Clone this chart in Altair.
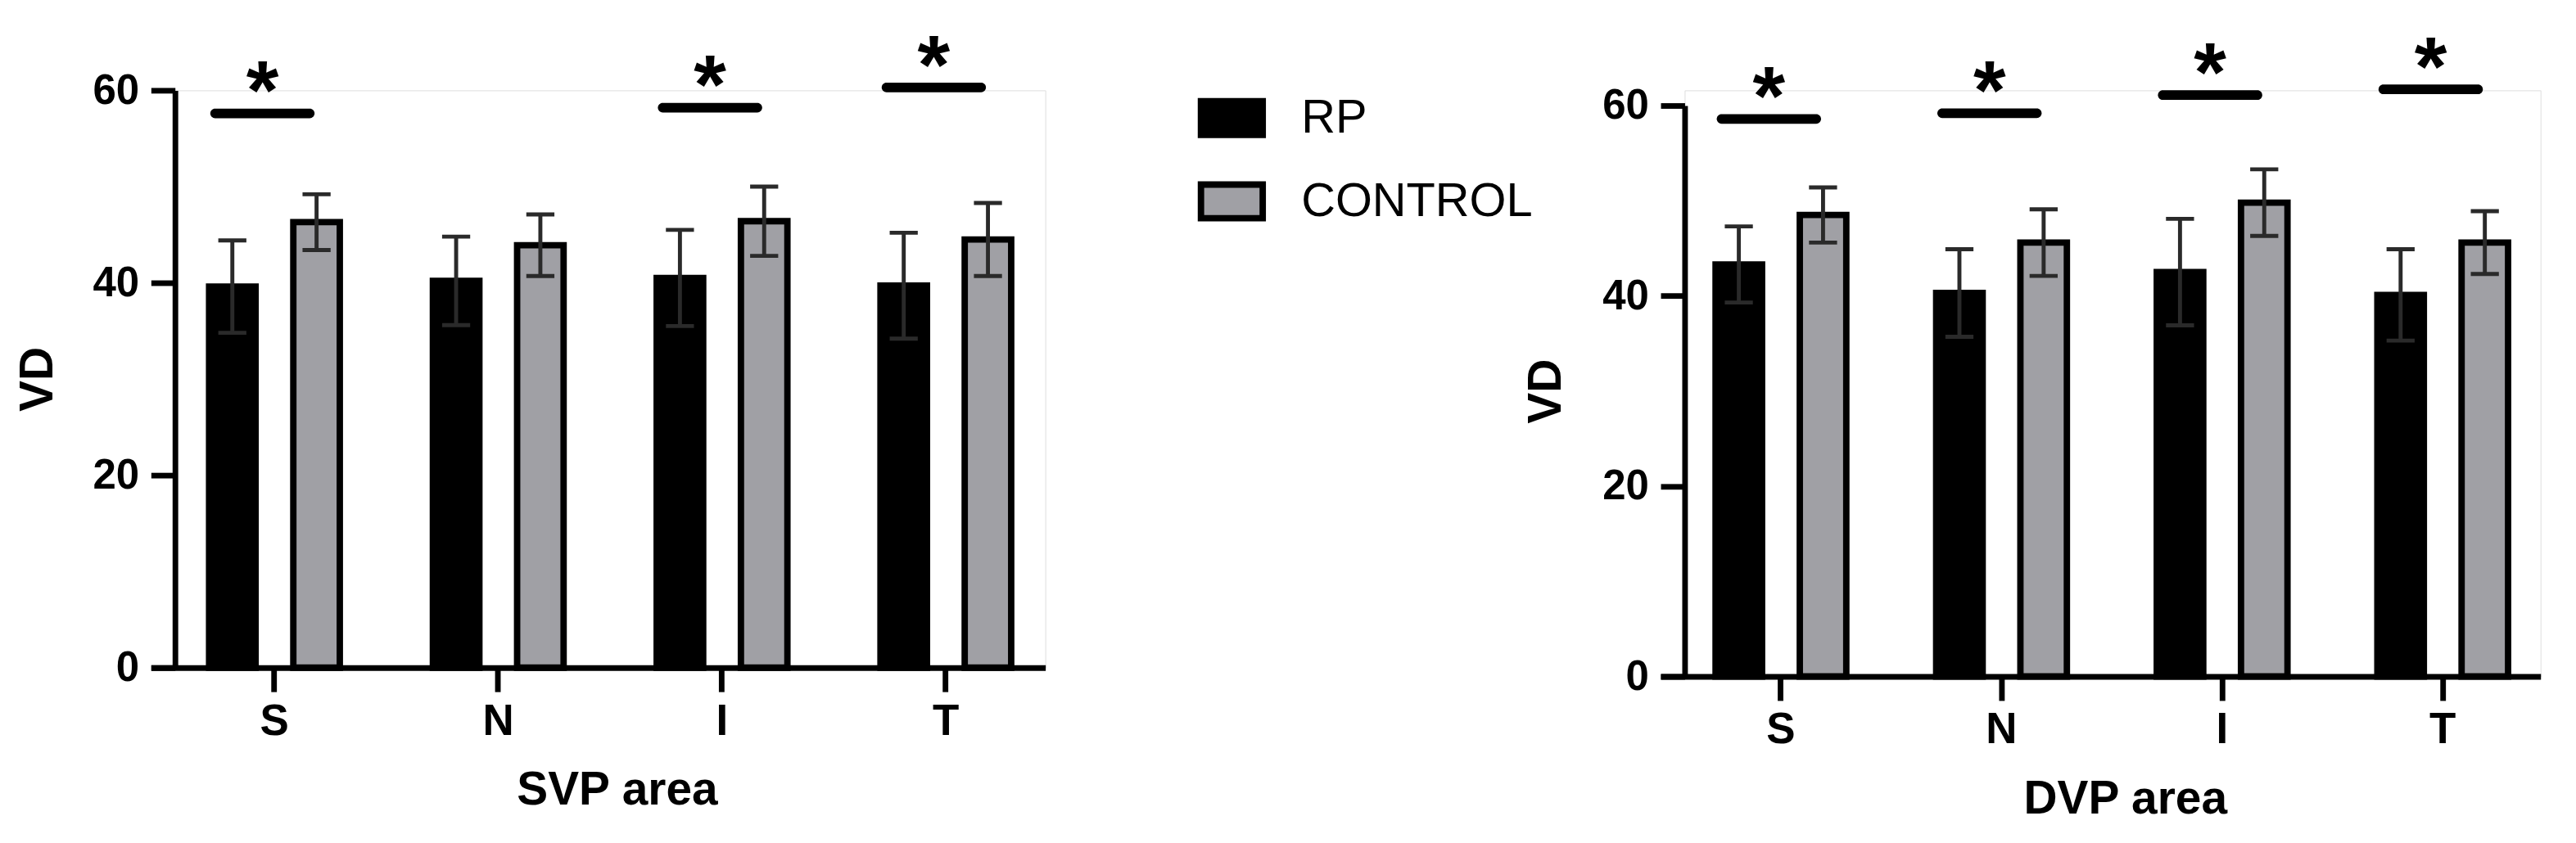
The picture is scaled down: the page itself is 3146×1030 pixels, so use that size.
import altair as alt
import pandas as pd

areas = ["S", "N", "I", "T"]
groups = ["RP", "CONTROL"]

# SVP panel
svp_rp = [39.6, 40.2, 40.5, 39.7]
svp_rp_sd = [4.8, 4.6, 5.0, 5.5]
svp_ctrl = [46.3, 43.9, 46.4, 44.5]
svp_ctrl_sd = [2.9, 3.2, 3.6, 3.8]
svp_sig_areas = ["S", "I", "T"]
svp_sig_y = [57.6, 58.2, 60.3]

# DVP panel
dvp_rp = [43.3, 40.3, 42.5, 40.1]
dvp_rp_sd = [4.0, 4.6, 5.6, 4.8]
dvp_ctrl = [48.5, 45.6, 49.8, 45.6]
dvp_ctrl_sd = [2.9, 3.5, 3.5, 3.3]
dvp_sig_areas = ["S", "N", "I", "T"]
dvp_sig_y = [58.6, 59.2, 61.1, 61.7]

FONT = "Liberation Sans"
GRAY = "#a0a0a5"
ERR = "#2a2a2a"


def long_df(rp, rp_sd, ctrl, ctrl_sd):
    rows = []
    for i, a in enumerate(areas):
        rows.append({"area": a, "group": "RP", "mean": rp[i],
                     "lo": rp[i] - rp_sd[i], "hi": rp[i] + rp_sd[i]})
        rows.append({"area": a, "group": "CONTROL", "mean": ctrl[i],
                     "lo": ctrl[i] - ctrl_sd[i], "hi": ctrl[i] + ctrl_sd[i]})
    return pd.DataFrame(rows)


def panel(df, sig_df, xtitle, width, height, yrange, xrange, pi, po, al,
          xtitle_x, ytitle_x, legend):
    xenc = alt.X("area:N", sort=areas,
                 scale=alt.Scale(range=xrange, paddingInner=pi, paddingOuter=po, align=al),
                 axis=alt.Axis(title=xtitle, labelAngle=0, tickSize=30, tickWidth=7,
                               tickColor="black", domainColor="black", domainWidth=7,
                               labelFont=FONT, labelFontSize=54, labelFontWeight="bold",
                               labelColor="black", labelPadding=10,
                               titleFont=FONT, titleFontSize=58, titleFontWeight="bold",
                               titleColor="black", titlePadding=30, titleX=xtitle_x))
    xoff = alt.XOffset("group:N", sort=groups,
                       scale=alt.Scale(paddingInner=0.448, paddingOuter=0.224))
    yscale = alt.Scale(domain=[0, 60], range=yrange) if yrange else alt.Scale(domain=[0, 60])
    yenc = alt.Y("mean:Q", scale=yscale,
                 axis=alt.Axis(title="VD", values=[0, 20, 40, 60], grid=False,
                               tickSize=30, tickWidth=7, tickColor="black",
                               domainColor="black", domainWidth=7,
                               labelFont=FONT, labelFontSize=52, labelFontWeight="bold",
                               labelColor="black", labelPadding=15,
                               titleFont=FONT, titleFontSize=58, titleFontWeight="bold",
                               titleColor="black", titleX=ytitle_x))
    color = alt.Color("group:N",
                      scale=alt.Scale(domain=groups, range=["#000000", GRAY]),
                      legend=legend)
    base = alt.Chart(df)
    xs = alt.X("area:N", sort=areas)
    xo = alt.XOffset("group:N", sort=groups)
    bars = base.mark_bar(stroke="black", strokeWidth=8).encode(
        x=xenc, xOffset=xoff, y=yenc, color=color)
    err = base.mark_rule(color=ERR, strokeWidth=5).encode(
        x=xs, xOffset=xo, y="lo:Q", y2="hi:Q")
    cap_hi = base.mark_tick(color=ERR, thickness=5, size=35, opacity=1).encode(
        x=xs, xOffset=xo, y="hi:Q")
    cap_lo = base.mark_tick(color=ERR, thickness=5, size=35, opacity=1).encode(
        x=xs, xOffset=xo, y="lo:Q")
    sbase = alt.Chart(sig_df)
    sig = sbase.mark_tick(color="black", thickness=12, size=130, cornerRadius=6,
                          opacity=1, xOffset=-15).encode(x=xs, y="y:Q")
    star = sbase.mark_text(text="*", font=FONT, fontSize=104, fontWeight="bold",
                           color="black", baseline="alphabetic", dx=-15, dy=7).encode(
        x=xs, y="y:Q")
    return alt.layer(bars, err, cap_hi, cap_lo, sig, star).properties(
        width=width, height=height)


legend = alt.Legend(title=None, orient="none", legendX=1275, legendY=-8,
                    symbolType="M-1,-0.545L1,-0.545L1,0.545L-1,0.545Z",
                    symbolSize=5929, symbolStrokeColor="black", symbolStrokeWidth=8,
                    labelFont=FONT, labelFontSize=59, labelColor="black",
                    labelOffset=44, labelLimit=600, rowPadding=24)

svp = panel(long_df(svp_rp, svp_rp_sd, svp_ctrl, svp_ctrl_sd),
            pd.DataFrame({"area": svp_sig_areas, "y": svp_sig_y}),
            "SVP area", 1085, 720, None, [-30, 1085], 0.2473, 0.1219, 0.72,
            551, -141, legend)
dvp = panel(long_df(dvp_rp, dvp_rp_sd, dvp_ctrl, dvp_ctrl_sd),
            pd.DataFrame({"area": dvp_sig_areas, "y": dvp_sig_y}),
            "DVP area", 1067, 731, [731, 19], [-30, 1067], 0.2364, 0.1127, 0.726,
            549, -143, legend)

chart = alt.hconcat(svp, dvp, spacing=564).properties(
    padding={"left": 10, "top": 13, "right": 5, "bottom": 5}
).configure_view(stroke=None).configure(background="white")

chart.save("out.html", embed_options={"renderer": "svg", "actions": False})
